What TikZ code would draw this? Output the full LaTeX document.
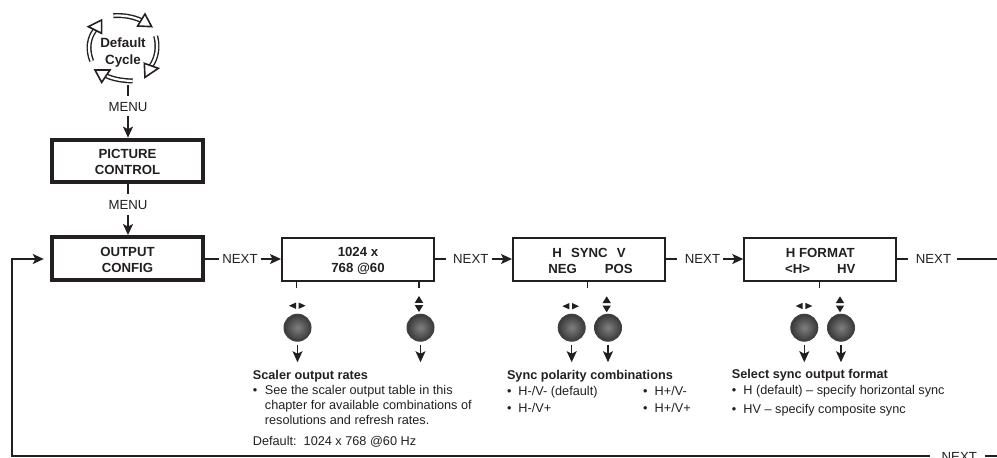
\documentclass[tikz,border=0pt]{standalone}
\usepackage{fontspec}
\setmainfont{Liberation Sans}
\usetikzlibrary{arrows.meta,calc}
\definecolor{ink}{HTML}{231F20}
\tikzset{
  thickbox/.style={draw=ink,line width=4pt,fill=white,minimum width=151.4pt,minimum height=42.7pt,inner sep=0pt,align=center,font=\fontsize{13.2}{16}\selectfont\bfseries,text=ink},
  thinbox/.style={draw=ink,line width=2pt,fill=white,minimum width=152pt,minimum height=42.4pt,inner sep=0pt,align=center,font=\fontsize{13.2}{16}\selectfont\bfseries,text=ink},
  lab/.style={inner sep=0pt,font=\fontsize{13.2}{15}\selectfont,text=ink},
  conn/.style={draw=ink,line width=1.4pt},
  thinstub/.style={draw=ink,line width=1.3pt},
  arr/.style={conn,-{Stealth[length=11pt,width=10pt,inset=2.5pt]}},
  knob/.style={circle,minimum size=27pt,inner sep=0pt,draw=ink!85,line width=1pt,inner color=black!50,outer color=black!78},
  txt/.style={inner sep=0pt,anchor=west,text height=9pt,text depth=3pt,font=\fontsize{12.7}{15}\selectfont,text=ink},
  head/.style={inner sep=0pt,anchor=west,text height=9pt,text depth=3pt,font=\fontsize{12.7}{15}\selectfont\bfseries,text=ink},
  cycarc/.style={draw=ink,line width=5pt},
  cycin/.style={draw=white,line width=2.2pt},
  cychead/.style={draw=ink,line width=1.6pt,fill=white,line join=miter},
}
\newcommand{\tl}{\rule{0pt}{11.5pt}}
\newcommand{\lrtri}[2]{\fill[ink] (#1-1.3,#2) -- ++(0,3.2) -- ++(-7,-3.2) -- ++(7,-3.2) -- cycle; \fill[ink] (#1+1.3,#2) -- ++(0,3.2) -- ++(7,-3.2) -- ++(-7,-3.2) -- cycle;}
\newcommand{\udtri}[2]{\fill[ink] (#1,#2+1.2) -- ++(4.2,0) -- ++(-4.2,6.8) -- ++(-4.2,-6.8) -- cycle; \fill[ink] (#1,#2-1.2) -- ++(4.2,0) -- ++(-4.2,-6.8) -- ++(-4.2,6.8) -- cycle;}
\newcommand{\cycarrow}[6]{%
  \draw[cycarc] #1 .. controls #2 and #3 .. #4;
  \draw[cycin] #1 .. controls #2 and #3 .. #4;
  \draw[cychead] #5 #6 -- cycle;}
\begin{document}
\begin{tikzpicture}[x=1pt,y=-1pt]
\useasboundingbox (0,0) rectangle (997,458);
% default-cycle arrows, in 3x zoom units
\begin{scope}[x=.3333pt,y=-.3333pt]
\cycarrow{(340,47)}{(370,45)}{(400,50)}{(425,62)}{(435,42) -- (455,80)}{-- (413,78)}
\cycarrow{(467,108)}{(476,140)}{(470,175)}{(453,198)}{(475,205) -- (435,232)}{-- (433,190)}
\cycarrow{(398,243)}{(370,242)}{(340,238)}{(318,227)}{(330,210) -- (285,210)}{-- (305,247)}
\cycarrow{(275,183)}{(262,150)}{(265,115)}{(285,90)}{(265,80) -- (305,60)}{-- (305,100)}
\end{scope}
\node[inner sep=0pt,align=center,font=\fontsize{13.4}{17}\selectfont\bfseries,text=ink] (cyc) at (123,52.5) {Default\\Cycle};
% boxes
\node[thickbox] (pic) at (127.5,161) {\tl PICTURE\\CONTROL};
\node[thickbox] (out) at (127.5,258.4) {\tl OUTPUT\\CONFIG};
\node[thinbox] (b1) at (358,259.5) {\tl 1024 x\\768 @60};
\node[thinbox] (b2) at (589,259.5) {\tl H\hspace{.7em}SYNC\hspace{.7em}V\\\hspace*{3pt}NEG\hspace{28pt}POS};
\node[thinbox] (b3) at (820.3,259.5) {\tl H FORMAT\\<H>\hspace{27pt}HV};
% menu labels
\node[lab] (m1) at (128,106.7) {MENU};
\node[lab] (m2) at (128,205) {MENU};
\coordinate (c1) at (128,85);
\draw[conn] (c1) -- (128,95.7);
\draw[arr] (m1.south) ++(0,4) -- (m1.south |- pic.north);
\draw[conn] (m2.north |- pic.south) -- (128,194.3);
\draw[arr] (m2.south) ++(0,5) -- (m2.south |- out.north);
% next row
\node[lab] (n1) at (240,259) {NEXT};
\node[lab] (n2) at (470.8,259) {NEXT};
\node[lab] (n3) at (702.5,259) {NEXT};
\node[lab] (n4) at (933.5,259) {NEXT};
\node[lab] (n5) at (959.3,457) {NEXT};
\draw[conn] (out.east |- n1) -- ++(14,0);
\draw[arr] (n1.east) ++(3,0) -- (b1.west |- n1);
\draw[conn] (b1.east |- n1) -- ++(11,0);
\draw[arr] (n2.east) ++(3,0) -- (b2.west |- n2);
\draw[conn] (b2.east |- n1) -- ++(11,0);
\draw[arr] (n3.east) ++(3,0) -- (b3.west |- n3);
\draw[conn] (b3.east |- n1) -- ++(11,0);
\draw[conn] (n4.east) ++(6,0) -- (997,259);
\draw[arr,shorten >=6pt] (930,456) -- (12,456) -- (12,259) -- (out.west |- n1);
\draw[conn] (985,456) -- (997,456);
% knobs
\foreach \n/\x in {k1/297.5,k2/420.5,k3/571.7,k4/608,k5/804.3,k6/841}{
  \node[knob] (\n) at (\x,327.7) {};
  \draw[arr] (\n.south) ++(0,3) -- ++(0,17.5);
}
\draw[thinstub] (296.7,281) -- (296.7,288);
\draw[thinstub] (419,281) -- (419,288);
\draw[thinstub] (587.7,281) -- (587.7,288);
\draw[thinstub] (819.7,281) -- (819.7,288);
\lrtri{297.3}{305.7}\udtri{419}{304}
\lrtri{570.7}{306.2}\udtri{606.7}{304.3}
\lrtri{804}{306}\udtri{840}{304.3}
% texts
\node[head] (t1) at (252.7,376) {Scaler output rates};
\node[txt] (t1a) at (252.7,391) {\makebox[12pt][l]{•}See the scaler output table in this};
\node[txt] (t1b) at (264.7,406.5) {chapter for available combinations of};
\node[txt] (t1c) at (264.7,421.7) {resolutions and refresh rates.};
\node[txt] (t1d) at (252.7,442.3) {Default:\ \ 1024 x 768 @60 Hz};
\node[head] (t2) at (506.8,376.7) {Sync polarity combinations};
\node[txt] (a1) at (506.8,392.7) {\makebox[11.5pt][l]{•}H-/V- (default)};
\node[txt] (a2) at (506.8,409.5) {\makebox[11.5pt][l]{•}H-/V+};
\node[txt] (a3) at (643,392.7) {\makebox[11.5pt][l]{•}H+/V-};
\node[txt] (a4) at (643,409.5) {\makebox[11.5pt][l]{•}H+/V+};
\node[head] (t3) at (731.7,375.7) {Select sync output format};
\node[txt] (d1) at (731.7,391.7) {\makebox[11.5pt][l]{•}H (default) – specify horizontal sync};
\node[txt] (d2) at (731.7,410) {\makebox[11.5pt][l]{•}HV – specify composite sync};
\end{tikzpicture}
\end{document}
